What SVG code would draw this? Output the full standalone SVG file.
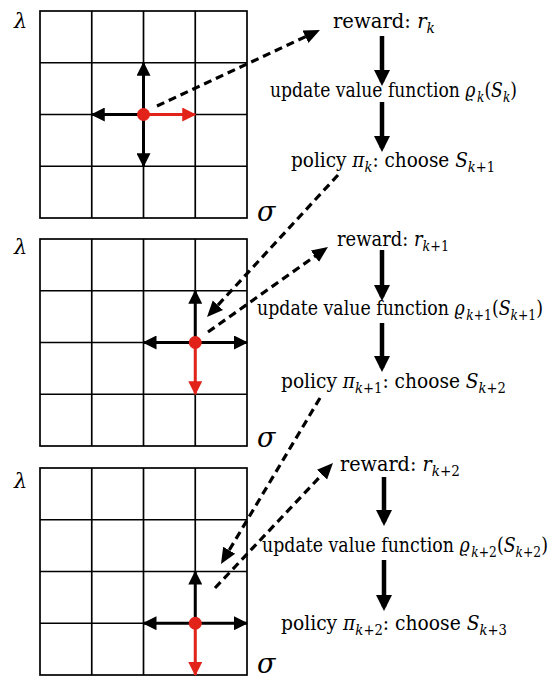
<svg xmlns="http://www.w3.org/2000/svg" width="558" height="683" viewBox="0 0 558 683">
  <style>
    .grid line { stroke: #000; stroke-width: 1.7; }
    .grid rect { fill: none; stroke: #000; stroke-width: 1.7; }
    .mv { stroke: #000; stroke-width: 3; fill: none; marker-end: url(#headK); }
    .mv.red { stroke: #e2231a; marker-end: url(#headR); }
    .dot { fill: #e2231a; }
    .flow { stroke: #000; stroke-width: 4.5; fill: none; marker-end: url(#headBig); }
    .dash { stroke: #000; stroke-width: 3.2; fill: none; stroke-dasharray: 8 5; marker-end: url(#headDash); }
    text { font-family: "DejaVu Serif", serif; font-size: 20.5px; fill: #000; }
    .i { font-style: italic; }
    .sub { font-size: 14.5px; }
    .lam { font-style: italic; font-size: 21px; }
    .sig { font-style: italic; font-size: 27px; }
  </style>
  <defs>
    <marker id="headK" markerUnits="userSpaceOnUse" markerWidth="14" markerHeight="14" viewBox="0 0 14 14" refX="13" refY="7" orient="auto">
      <path d="M0,0 L14,7 L0,14 Z" fill="#000"/>
    </marker>
    <marker id="headR" markerUnits="userSpaceOnUse" markerWidth="14" markerHeight="14" viewBox="0 0 14 14" refX="13" refY="7" orient="auto">
      <path d="M0,0 L14,7 L0,14 Z" fill="#e2231a"/>
    </marker>
    <marker id="headBig" markerUnits="userSpaceOnUse" markerWidth="16" markerHeight="16" viewBox="0 0 16 16" refX="12" refY="8" orient="auto">
      <path d="M0,0 L16,8 L0,16 Z" fill="#000"/>
    </marker>
    <marker id="headDash" markerUnits="userSpaceOnUse" markerWidth="16" markerHeight="16" viewBox="0 0 16 16" refX="6" refY="8" orient="auto">
      <path d="M0,1 L16,8 L0,15 Z" fill="#000"/>
    </marker>
    <g id="cells" class="grid">
      <rect x="0" y="0" width="207" height="207"/>
      <line x1="51.75" y1="0" x2="51.75" y2="207"/>
      <line x1="103.5" y1="0" x2="103.5" y2="207"/>
      <line x1="155.25" y1="0" x2="155.25" y2="207"/>
      <line x1="0" y1="51.75" x2="207" y2="51.75"/>
      <line x1="0" y1="103.5" x2="207" y2="103.5"/>
      <line x1="0" y1="155.25" x2="207" y2="155.25"/>
    </g>
  </defs>

  <!-- state grid at step k -->
  <g id="grid1">
    <use href="#cells" x="40" y="11"/>
    <text class="lam" x="14" y="28">λ</text>
    <text class="sig" x="257" y="221">σ</text>
    <line class="mv" x1="143.5" y1="114.5" x2="143.5" y2="62.75"/>
    <line class="mv" x1="143.5" y1="114.5" x2="91.75" y2="114.5"/>
    <line class="mv" x1="143.5" y1="114.5" x2="143.5" y2="166.25"/>
    <line class="mv red" x1="143.5" y1="114.5" x2="195.25" y2="114.5"/>
    <circle class="dot" cx="143.5" cy="114.5" r="6.5"/>
  </g>

  <!-- state grid at step k+1 -->
  <g id="grid2">
    <use href="#cells" x="40" y="239"/>
    <text class="lam" x="14" y="254">λ</text>
    <text class="sig" x="257" y="447">σ</text>
    <line class="mv" x1="195.25" y1="342.5" x2="195.25" y2="290.75"/>
    <line class="mv" x1="195.25" y1="342.5" x2="143.5" y2="342.5"/>
    <line class="mv" x1="195.25" y1="342.5" x2="247" y2="342.5"/>
    <line class="mv red" x1="195.25" y1="342.5" x2="195.25" y2="394.25"/>
    <circle class="dot" cx="195.25" cy="342.5" r="6.5"/>
  </g>

  <!-- state grid at step k+2 -->
  <g id="grid3">
    <use href="#cells" x="40" y="468"/>
    <text class="lam" x="14" y="488">λ</text>
    <text class="sig" x="257" y="673">σ</text>
    <line class="mv" x1="195.25" y1="623.25" x2="195.25" y2="571.5"/>
    <line class="mv" x1="195.25" y1="623.25" x2="143.5" y2="623.25"/>
    <line class="mv" x1="195.25" y1="623.25" x2="247" y2="623.25"/>
    <line class="mv red" x1="195.25" y1="623.25" x2="195.25" y2="675"/>
    <circle class="dot" cx="195.25" cy="623.25" r="6.5"/>
  </g>

  <!-- step k (labels set in a slightly condensed serif) -->
  <g id="reward1" transform="translate(333,28) scale(0.89,1)"><text x="0" y="0" textLength="114.6" lengthAdjust="spacingAndGlyphs">reward: <tspan class="i">r</tspan><tspan class="sub i" dy="5">k</tspan></text></g>
  <g id="update1" transform="translate(270,97) scale(0.89,1)"><text x="0" y="0" textLength="277.5" lengthAdjust="spacingAndGlyphs">update value function <tspan class="i">ϱ</tspan><tspan class="sub i" dx="2" dy="5">k</tspan><tspan dy="-5">(</tspan><tspan class="i">S</tspan><tspan class="sub i" dy="5">k</tspan><tspan dy="-5">)</tspan></text></g>
  <g id="policy1" transform="translate(291,167) scale(0.89,1)"><text x="0" y="0" textLength="229.2" lengthAdjust="spacingAndGlyphs">policy <tspan class="i">π</tspan><tspan class="sub i" dy="5">k</tspan><tspan dy="-5">: choose </tspan><tspan class="i">S</tspan><tspan class="sub" dy="5"><tspan class="i">k</tspan>+1</tspan></text></g>

  <!-- step k+1 -->
  <g id="reward2" transform="translate(337,246) scale(0.89,1)"><text x="0" y="0" textLength="125.8" lengthAdjust="spacingAndGlyphs">reward: <tspan class="i">r</tspan><tspan class="sub" dy="5"><tspan class="i">k</tspan>+1</tspan></text></g>
  <g id="update2" transform="translate(257,315) scale(0.89,1)"><text x="0" y="0" textLength="321.3" lengthAdjust="spacingAndGlyphs">update value function <tspan class="i">ϱ</tspan><tspan class="sub" dx="2" dy="5"><tspan class="i">k</tspan>+1</tspan><tspan dy="-5">(</tspan><tspan class="i">S</tspan><tspan class="sub" dy="5"><tspan class="i">k</tspan>+1</tspan><tspan dy="-5">)</tspan></text></g>
  <g id="policy2" transform="translate(281,388) scale(0.89,1)"><text x="0" y="0" textLength="252.8" lengthAdjust="spacingAndGlyphs">policy <tspan class="i">π</tspan><tspan class="sub" dy="5"><tspan class="i">k</tspan>+1</tspan><tspan dy="-5">: choose </tspan><tspan class="i">S</tspan><tspan class="sub" dy="5"><tspan class="i">k</tspan>+2</tspan></text></g>

  <!-- step k+2 -->
  <g id="reward3" transform="translate(340,471) scale(0.89,1)"><text x="0" y="0" textLength="134.8" lengthAdjust="spacingAndGlyphs">reward: <tspan class="i">r</tspan><tspan class="sub" dy="5"><tspan class="i">k</tspan>+2</tspan></text></g>
  <g id="update3" transform="translate(262,552) scale(0.89,1)"><text x="0" y="0" textLength="321.3" lengthAdjust="spacingAndGlyphs">update value function <tspan class="i">ϱ</tspan><tspan class="sub" dx="2" dy="5"><tspan class="i">k</tspan>+2</tspan><tspan dy="-5">(</tspan><tspan class="i">S</tspan><tspan class="sub" dy="5"><tspan class="i">k</tspan>+2</tspan><tspan dy="-5">)</tspan></text></g>
  <g id="policy3" transform="translate(281,630) scale(0.89,1)"><text x="0" y="0" textLength="253.9" lengthAdjust="spacingAndGlyphs">policy <tspan class="i">π</tspan><tspan class="sub" dy="5"><tspan class="i">k</tspan>+2</tspan><tspan dy="-5">: choose </tspan><tspan class="i">S</tspan><tspan class="sub" dy="5"><tspan class="i">k</tspan>+3</tspan></text></g>

  <g id="connectors">
    <line class="flow" x1="382" y1="36" x2="382" y2="82"/>
    <line class="flow" x1="382" y1="102" x2="382" y2="148"/>
    <line class="flow" x1="382" y1="250" x2="382" y2="297"/>
    <line class="flow" x1="382" y1="323" x2="382" y2="368"/>
    <line class="flow" x1="384" y1="477" x2="384" y2="522"/>
    <line class="flow" x1="384" y1="560" x2="384" y2="607"/>
    <line class="dash" x1="157" y1="106" x2="310.9" y2="34.2"/>
    <line class="dash" x1="338" y1="175" x2="213.8" y2="309.6"/>
    <line class="dash" x1="208" y1="332" x2="319.8" y2="252.8"/>
    <line class="dash" x1="320" y1="398" x2="226.1" y2="555.4"/>
    <line class="dash" x1="215" y1="588" x2="326.1" y2="470.3"/>
  </g>
</svg>
